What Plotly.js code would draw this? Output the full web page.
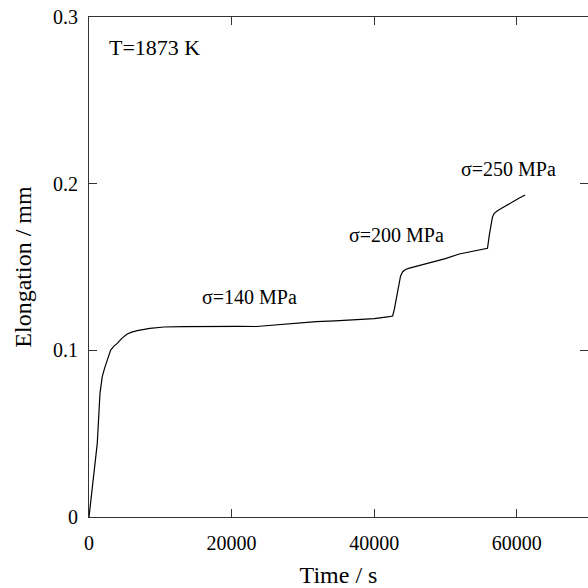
<!DOCTYPE html>
<html>
<head>
<meta charset="utf-8">
<script src="https://cdn.plot.ly/plotly-3.0.1.min.js"></script>
<style>
html,body{margin:0;padding:0;overflow:hidden;background:#fff;}
#chart svg text{font-family:"Liberation Serif","Times New Roman",Times,serif !important;}
</style>
</head>
<body>
<div id="chart" style="width:588px;height:588px;"></div>
<script>
// Time (s) and elongation (mm)
const timeS = [0, 600, 1160, 1540, 1860, 2200, 2560, 3040, 3500, 3960, 4600, 5360, 6000, 6760, 8540, 10500, 13200, 17880, 21000, 23480, 25500, 27200, 29500, 31880, 34500, 37480, 40000, 42140, 42600, 42850, 43080, 43440, 43700, 44000, 44400, 44940, 46500, 48200, 50000, 51940, 53800, 55680, 55900, 56150, 56380, 56600, 56840, 57300, 58000, 59400, 60300, 61180];
const elongationMm = [0, 0.0225, 0.0442, 0.0742, 0.0842, 0.0895, 0.0942, 0.1002, 0.1025, 0.1042, 0.1072, 0.1098, 0.1109, 0.1118, 0.1132, 0.1140, 0.1142, 0.1145, 0.1144, 0.1143, 0.1150, 0.1158, 0.1165, 0.1172, 0.1177, 0.1182, 0.1190, 0.1202, 0.1206, 0.1250, 0.1302, 0.1402, 0.1445, 0.1472, 0.1485, 0.1493, 0.1510, 0.1528, 0.1550, 0.1578, 0.1596, 0.1610, 0.1612, 0.1690, 0.1762, 0.1800, 0.1822, 0.1838, 0.1855, 0.1892, 0.1912, 0.1932];

const xTickVals = [0, 20000, 40000, 60000];
const xTickText = ["0", "20000", "40000", "60000"];
const yTickVals = [0, 0.1, 0.2, 0.3];
const yTickText = ["0", "0.1", "0.2", "0.3"];

const labelTexts = ["T=1873 K", "σ=140 MPa", "σ=200 MPa", "σ=250 MPa"];
const labelX = [2520, 22540, 43120, 58800];
const labelY = [0.282, 0.132, 0.169, 0.209];
const labelAnchor = ["left", "center", "center", "center"];
const labelSize = [22, 20, 20, 20];

const F = "Liberation Serif";

const annotations = labelTexts.map((t, i) => ({
  text: t, x: labelX[i], y: labelY[i], xref: "x", yref: "y",
  xanchor: labelAnchor[i], showarrow: false,
  font: {family: F, size: labelSize[i], color: "#000"}
}));

const layout = {
  width: 588, height: 588,
  margin: {l: 89, r: 0, t: 17, b: 71},
  showlegend: false,
  xaxis: {
    showgrid: false, zeroline: false, showline: true, linecolor: "#333",
    mirror: "ticks", ticks: "inside", ticklen: 8, tickcolor: "#333",
    tickfont: {family: F, size: 20, color: "#000"},
    range: [0, 70000], tickvals: xTickVals, ticktext: xTickText,
    ticklabelstandoff: 8,
    title: {text: "Time / s", font: {family: F, size: 24, color: "#000"}}
  },
  yaxis: {
    showgrid: false, zeroline: false, showline: true, linecolor: "#333",
    mirror: "ticks", ticks: "inside", ticklen: 8, tickcolor: "#333",
    tickfont: {family: F, size: 20, color: "#000"},
    range: [0, 0.3], tickvals: yTickVals, ticktext: yTickText,
    ticklabelstandoff: 6,
    title: {text: "Elongation / mm", font: {family: F, size: 24, color: "#000"}}
  },
  annotations: annotations
};

Plotly.newPlot("chart", [{x: timeS, y: elongationMm, mode: "lines", line: {color: "#000", width: 1.2}}], layout, {displayModeBar: false, staticPlot: true});
</script>
</body>
</html>
